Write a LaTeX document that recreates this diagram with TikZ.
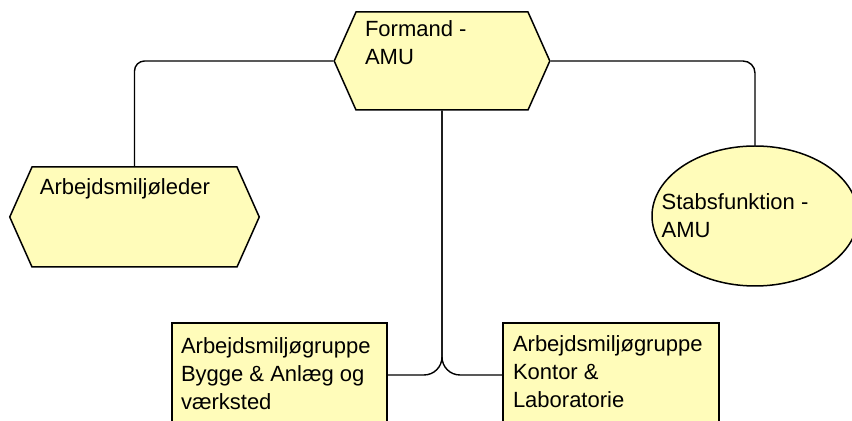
\documentclass[tikz,border=0pt]{standalone}
\usepackage{fontspec}
\setmainfont{Liberation Sans}
\usetikzlibrary{shapes.symbols,shapes.geometric}
\definecolor{boxyellow}{RGB}{255,252,186}
\newcommand{\boxtext}[5]{\parbox[c][#2][t]{#1}{\raggedright\leftskip=#3\vspace*{#4}#5}}

\begin{document}
\begin{tikzpicture}[x=0.5pt,y=-0.5pt,
  every node/.style={font=\fontsize{11}{14}\selectfont},
  hexa/.style={signal, signal to=east and west, signal pointer angle=132, draw, line width=0.75pt, fill=boxyellow, inner sep=0pt},
  unit/.style={rectangle, draw, line width=0.75pt, fill=boxyellow, inner sep=0pt},
  staff/.style={ellipse, draw, line width=0.75pt, fill=boxyellow, inner sep=0pt, minimum width=103pt, minimum height=70pt},
  link/.style={line width=0.7pt}]
\useasboundingbox (0,0) rectangle (852,421);

\node[hexa] at (442,61)(formand){\boxtext{86pt}{49pt}{4.5pt}{4.5pt}{Formand -\\AMU}};
\node[hexa] at (134.5,217)(leder){\boxtext{102.5pt}{50pt}{4pt}{6pt}{Arbejdsmilj{\o}leder}};
\node[staff, label={[anchor=west, xshift=5pt, inner sep=0pt, align=left]west:Stabsfunktion -\\AMU}] at (755,216)(stab){};
\node[unit] at (279.5,375)(bygge){\boxtext{107.5pt}{52pt}{4.5pt}{7.5pt}{Arbejdsmilj{\o}gruppe\\Bygge \& Anl{\ae}g og\\v{\ae}rksted}};
\node[unit] at (611,375)(kontor){\boxtext{108pt}{52pt}{5pt}{6.5pt}{Arbejdsmilj{\o}gruppe\\Kontor \&\\Laboratorie}};

\draw[link, rounded corners=5pt] (formand.west) -| (leder.north);
\draw[link, rounded corners=6pt] (formand.east) -| (stab.north);
\draw[link, rounded corners=9pt] (formand.south) |- (bygge.east);
\draw[link, rounded corners=9pt] (formand.south) |- (kontor.west);
\end{tikzpicture}
\end{document}
